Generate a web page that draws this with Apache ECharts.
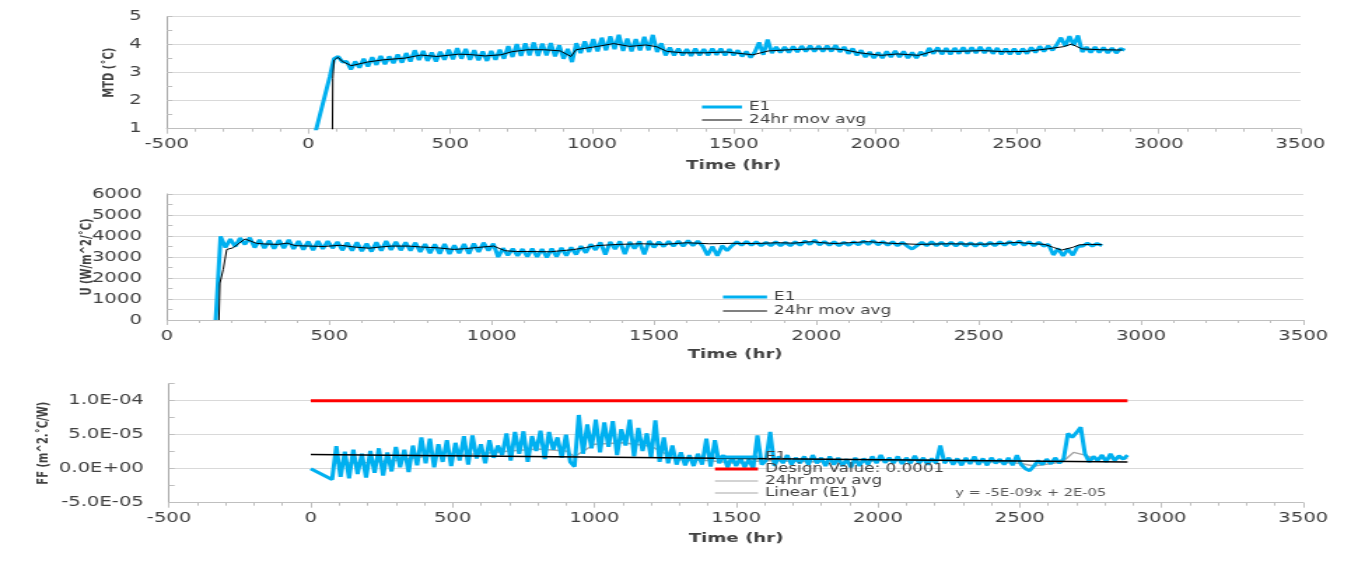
<!DOCTYPE html>
<html><head><meta charset="utf-8">
<script src="https://cdn.jsdelivr.net/npm/echarts@6/dist/echarts.min.js"></script>
<style>
html,body{margin:0;padding:0;background:#fff;overflow:hidden;width:1358px;height:563px;}
#chart{width:970px;height:563px;transform:scaleX(1.4);transform-origin:0 0;}
</style></head><body><div id="chart"></div>
<script>
// ---------- data ----------
const hours = [0,75,
 90,105,120,135,150,165,180,195,210,225,
 240,255,270,285,300,315,330,345,360,375,
 390,405,420,435,450,465,480,495,510,525,
 540,555,570,585,600,615,630,645,660,675,
 690,705,720,735,750,765,780,795,810,825,
 840,855,870,885,900,915,930,945,960,975,
 990,1005,1020,1035,1050,1065,1080,1095,1110,1125,
 1140,1155,1170,1185,1200,1215,1230,1245,1260,1275,
 1290,1305,1320,1335,1350,1365,1380,1395,1410,1425,
 1440,1455,1470,1485,1500,1515,1530,1545,1560,1575,
 1590,1605,1620,1635,1650,1665,1680,1695,1710,1725,
 1740,1755,1770,1785,1800,1815,1830,1845,1860,1875,
 1890,1905,1920,1935,1950,1965,1980,1995,2010,2025,
 2040,2055,2070,2085,2100,2115,2130,2145,2160,2175,
 2190,2205,2220,2235,2250,2265,2280,2295,2310,2325,
 2340,2355,2370,2385,2400,2415,2430,2445,2460,2475,
 2490,2505,2520,2535,2550,2565,2580,2595,2610,2625,
 2640,2655,2670,2685,2700,2715,2730,2745,2760,2775,
 2790,2805,2820,2835,2850,2865,2880];

// MTD (°C), E1
const mtdE1 = [-0.1,2.85,
 3.50,3.58,3.38,3.40,3.12,3.40,3.18,3.50,3.22,3.55,
 3.28,3.60,3.30,3.58,3.34,3.65,3.36,3.70,3.40,3.80,
 3.45,3.78,3.42,3.72,3.40,3.75,3.46,3.82,3.48,3.88,
 3.50,3.85,3.46,3.80,3.44,3.76,3.42,3.78,3.46,3.82,
 3.50,3.95,3.56,4.02,3.60,4.05,3.62,4.08,3.60,4.04,
 3.62,4.06,3.58,3.98,3.50,3.85,3.38,4.05,3.70,4.12,
 3.74,4.20,3.76,4.25,3.80,4.30,3.84,4.35,3.78,4.22,
 3.76,4.20,3.80,4.28,3.80,4.35,3.74,4.05,3.62,3.90,
 3.62,3.86,3.62,3.84,3.60,3.86,3.62,3.84,3.62,3.86,
 3.64,3.86,3.62,3.84,3.62,3.80,3.58,3.76,3.54,3.74,
 4.08,3.64,4.18,3.70,3.92,3.72,3.92,3.72,3.94,3.74,
 3.95,3.76,3.96,3.76,3.95,3.76,3.96,3.76,3.98,3.74,
 3.92,3.68,3.86,3.62,3.80,3.56,3.74,3.52,3.72,3.52,
 3.76,3.56,3.78,3.56,3.76,3.52,3.72,3.52,3.74,3.60,
 3.88,3.68,3.90,3.66,3.88,3.66,3.88,3.68,3.90,3.68,
 3.90,3.70,3.92,3.70,3.90,3.68,3.88,3.66,3.86,3.66,
 3.86,3.66,3.86,3.68,3.90,3.72,3.94,3.76,3.96,3.80,
 4.00,4.25,3.95,4.30,3.98,4.33,3.74,3.92,3.72,3.92,
 3.72,3.90,3.70,3.88,3.70,3.86,3.80];

const mtdAvgHours = [84,86,90,104,120,151,208,264,340,397,453,529,567,623,680,718,774,831,888,926,944,1020,1077,1133,1190,1228,1265,1322,1398,1473,1568,1624,1700,1775,1851,1889,1945,2021,2078,2153,2210,2286,2380,2456,2531,2607,2664,2692,2729,2795,2871];
const mtdAvg = [0,2.8,3.45,3.55,3.40,3.25,3.38,3.46,3.52,3.63,3.58,3.66,3.65,3.60,3.64,3.75,3.82,3.82,3.78,3.58,3.82,3.94,4.04,3.94,3.99,3.93,3.76,3.71,3.71,3.74,3.64,3.78,3.82,3.85,3.85,3.82,3.71,3.62,3.67,3.62,3.78,3.76,3.79,3.75,3.76,3.85,3.93,4.02,3.85,3.82,3.81];

// U (W/m^2/°C), E1
const uE1 = [null,null,
 null,null,null,null,0,3980,3450,3850,3500,3900,
 3600,3920,3450,3820,3420,3780,3400,3800,3420,3820,
 3380,3760,3350,3740,3320,3760,3380,3760,3420,3720,
 3320,3680,3300,3700,3280,3640,3260,3700,3300,3760,
 3340,3720,3320,3700,3300,3680,3240,3620,3180,3600,
 3160,3620,3140,3560,3180,3620,3160,3640,3240,3680,
 3300,3640,3000,3420,3080,3400,3050,3380,3020,3400,
 3000,3380,2980,3400,3020,3440,3060,3460,3120,3520,
 3200,3600,3340,3700,3120,3720,3380,3740,3140,3720,
 3400,3740,3120,3760,3460,3720,3500,3740,3520,3760,
 3520,3780,3540,3760,3520,3080,3500,3060,3540,3300,
 3540,3720,3560,3740,3560,3720,3540,3700,3540,3720,
 3540,3700,3540,3720,3560,3760,3600,3800,3580,3740,
 3560,3720,3540,3700,3560,3720,3580,3760,3600,3780,
 3580,3740,3560,3720,3540,3700,3520,3380,3540,3700,
 3540,3720,3540,3700,3520,3700,3520,3700,3520,3680,
 3520,3680,3520,3700,3540,3720,3560,3740,3580,3760,
 3560,3720,3540,3700,3520,3600,3100,3400,3050,3380,
 3080,3500,3520,3660,3520,3640,3540];

const uAvgHours = [160,163,173,184,204,240,276,300,342,370,395,440,482,534,580,622,660,692,744,790,832,884,920,954,990,1006,1041,1075,1111,1181,1251,1290,1321,1391,1461,1531,1601,1671,1741,1811,1881,1930,1986,2020,2056,2100,2161,2231,2318,2406,2511,2570,2616,2660,2703,2730,2755,2790,2810,2843,2880];
const uAvg = [0,1760,2400,3360,3440,3860,3650,3620,3600,3660,3540,3520,3500,3560,3470,3420,3480,3520,3520,3470,3440,3360,3400,3450,3500,3520,3300,3260,3260,3250,3350,3450,3540,3600,3630,3600,3680,3630,3650,3640,3680,3660,3730,3680,3640,3680,3730,3650,3600,3630,3610,3640,3700,3640,3600,3460,3330,3460,3580,3600,3590];

// FF, E1 (in units of 1E-05 m^2.°C/W)
const ffE1 = [0,-1.6,
 3.3,-1.2,2.5,-1.4,2.8,-0.8,2.2,-1.3,2.6,-0.6,
 3.0,-1.0,2.4,-0.4,3.2,0.2,2.8,-0.5,3.4,0.5,
 4.6,0.8,4.4,0.2,3.6,1.0,4.2,0.4,3.8,1.2,
 4.8,0.6,4.9,1.5,3.6,0.8,4.2,1.6,3.4,2.0,
 5.2,1.2,5.4,2.2,5.5,1.0,4.8,2.6,5.6,1.4,
 5.4,2.8,4.6,1.6,5.0,1.0,0.3,7.9,2.2,6.5,
 3.0,7.2,2.4,6.8,3.2,7.0,2.0,5.8,3.4,7.2,
 1.8,6.0,2.6,5.2,1.6,7.1,1.0,4.6,0.8,3.4,
 0.6,2.4,0.5,2.0,0.4,2.2,0.6,4.4,0.3,4.2,
 0.8,2.0,0.2,1.8,0.4,1.6,0.2,1.4,0.0,4.9,
 0.6,1.2,5.4,0.4,1.8,0.8,2.0,0.6,1.6,0.8,
 1.8,0.6,2.0,0.8,1.6,0.4,1.8,0.6,1.6,0.4,
 1.4,0.2,1.6,0.4,1.5,0.6,1.8,0.8,2.0,0.9,
 1.6,0.8,1.8,0.7,1.6,0.8,1.9,0.8,1.6,0.6,
 1.5,0.8,3.4,0.8,1.6,0.6,1.5,0.5,1.6,0.7,
 1.8,0.6,1.5,0.5,1.6,0.8,1.4,0.6,1.6,0.5,
 2.0,0.6,0.0,-0.3,0.4,1.2,0.6,1.4,0.7,1.6,
 0.8,1.5,5.2,4.6,5.3,6.1,2.2,1.0,1.8,1.2,
 2.0,1.0,2.2,1.2,1.9,1.4,2.0];

const ffAvgHours = [90,200,300,400,500,600,700,800,900,930,1000,1100,1200,1260,1300,1400,1500,1600,1700,1800,1900,2000,2100,2200,2300,2400,2500,2550,2650,2690,2730,2760,2880];
const ffAvg = [0.8,0.9,1.2,1.8,2.0,2.2,2.6,2.9,2.6,1.8,3.6,3.8,3.3,2.0,1.3,1.2,0.8,1.2,1.1,1.0,0.8,1.2,1.2,1.3,1.1,1.0,0.8,0.4,1.0,2.4,2.0,1.5,1.5];

const designHours = [0,2880];
const designValue = [10,10];          // 1.0E-04
const linearHours = [0,2880];
const linearFF = [2.1,1.0];           // trend line of E1
const trendText = 'y = -5E-09x + 2E-05';

const xTicksA = {min:-500,max:3500,interval:500};
const xTicksB = {min:0,max:3500,interval:500};

// ---------- helpers ----------
const SX = 1.4;               // page is drawn narrow and stretched horizontally
const px = x => x / SX;
const FONT = 'DejaVu Sans';
const zip = (xs, ys) => xs.map((x,i)=>[x, ys[i]]).filter(p => p[1] !== null && p[1] !== undefined);
const plain = v => String(v);
const sci = v => {
  if (Math.abs(v/5 - Math.round(v/5)) > 1e-9) return '';
  let s = (v*1e-5).toExponential(1).toUpperCase();
  return s.replace(/E([+-])(\d)$/, 'E$10$2');
};

const labelColor = '#404040';
function xAxis(gi, ticks, gap){
  return {type:'value', gridIndex:gi, min:ticks.min, max:ticks.max, interval:ticks.interval,
    name:'Time (hr)', nameLocation:'middle', nameGap:gap, nameMoveOverlap:false,
    nameTextStyle:{fontFamily:FONT, fontWeight:'bold', fontSize:13, color:labelColor},
    axisLine:{show:true, onZero:false, lineStyle:{color:'#bfbfbf', width:1}},
    axisTick:{show:true, length:5, lineStyle:{color:'#bfbfbf'}},
    minorTick:{show:true, splitNumber:5, length:3, lineStyle:{color:'#bfbfbf'}},
    splitLine:{show:false},
    axisLabel:{fontFamily:FONT, fontSize:14, color:labelColor, margin:9, formatter:plain}
  };
}
function yAxis(gi, o, fmt){
  return Object.assign({type:'value', gridIndex:gi, nameLocation:'middle', nameMoveOverlap:false,
    nameTextStyle:{fontFamily:FONT, fontWeight:'bold', fontSize:10, color:labelColor},
    axisLine:{show:true, onZero:false, lineStyle:{color:'#a6a6a6', width:1}},
    axisTick:{show:true, inside:true, length:4, lineStyle:{color:'#bfbfbf'}},
    minorTick:{show:true, splitNumber:2, length:4, lineStyle:{color:'#bfbfbf'}},
    splitLine:{show:true, showMaxLine:true, lineStyle:{color:'#d9d9d9', width:1}},
    axisLabel:{fontFamily:FONT, fontSize:14, color:labelColor, margin:8, padding:[0,10,0,0], formatter:fmt || plain}
  }, o);
}
function line(name, xi, data, color, width, z){
  return {type:'line', name, xAxisIndex:xi, yAxisIndex:xi, data, showSymbol:false, symbol:'none',
    clip:true, z: z || 2, lineStyle:{color, width}, itemStyle:{color}, emphasis:{disabled:true}};
}
// one legend component per legend row (Excel-style short line keys)
function legendRow(name, color, thick, leftX, centerY, keyW){
  return {orient:'horizontal', padding:0, selectedMode:false, icon:'rect',
    itemWidth:px(keyW), itemHeight:thick, left:px(leftX), top:centerY - 6,
    textStyle:{fontFamily:FONT, fontSize:12, color:labelColor},
    data:[{name, icon:'rect', itemStyle:{color, borderWidth:0}}]};
}

const option = {
  animation:false,
  backgroundColor:'#ffffff',
  grid:[
    {left:px(166.7), width:px(1300.5-166.7), top:16.7, height:112, outerBoundsMode:'none'},
    {left:px(167), width:px(1303.3-167), top:194, height:126, outerBoundsMode:'none'},
    {left:px(169), width:px(1303.3-169), top:383.7, height:119, outerBoundsMode:'none'}
  ],
  xAxis:[ xAxis(0, xTicksA, 30), xAxis(1, xTicksB, 28), xAxis(2, xTicksA, 29) ],
  yAxis:[
    yAxis(0, {min:1, max:5, interval:1, name:'MTD (˚C)', nameGap:36}),
    yAxis(1, {min:0, max:6000, interval:1000, name:'U (W/m^2/˚C)', nameGap:52}),
    yAxis(2, {min:-5, max:12.5, interval:5, name:'FF (m^2.˚C/W)', nameGap:84,
      splitLine:{show:true, showMaxLine:false, lineStyle:{color:'#d9d9d9', width:1}}}, sci)
  ],
  legend:[
    legendRow('E1', '#00b0f0', 3, 702, 107, 40),
    legendRow('24hr mov avg', '#000000', 1, 702, 120, 40),
    legendRow('E1', '#00b0f0', 3, 723, 297, 44),
    legendRow('24hr mov avg', '#000000', 1, 723, 311, 44),
    legendRow('E1', '#00b0f0', 3, 715, 457, 43),
    legendRow('Design Value: 0.0001', '#ff0000', 3, 715, 469, 43),
    legendRow('24hr mov avg', '#a6a6a6', 1, 715, 481, 43),
    legendRow('Linear (E1)', '#a6a6a6', 1, 715, 493, 43)
  ],
  title:[{text:trendText, left:px(955), top:487.5, padding:0,
    textStyle:{fontFamily:FONT, fontSize:10.5, fontWeight:'normal', color:'#595959'}}],
  series:[
    line('E1', 0, zip(hours, mtdE1), '#00b0f0', 3),
    line('24hr mov avg', 0, zip(mtdAvgHours, mtdAvg), '#000000', 1),
    line('E1', 1, zip(hours, uE1), '#00b0f0', 3),
    line('24hr mov avg', 1, zip(uAvgHours, uAvg), '#000000', 1),
    line('24hr mov avg', 2, zip(ffAvgHours, ffAvg), '#a6a6a6', 1.5),
    line('E1', 2, zip(hours, ffE1), '#00b0f0', 3),
    line('Design Value: 0.0001', 2, zip(designHours, designValue), '#ff0000', 3),
    line('Linear (E1)', 2, zip(linearHours, linearFF), '#000000', 1.5)
  ]
};
const chart = echarts.init(document.getElementById('chart'), null, {renderer:'canvas', width:970, height:563});
chart.setOption(option);
</script></body></html>
